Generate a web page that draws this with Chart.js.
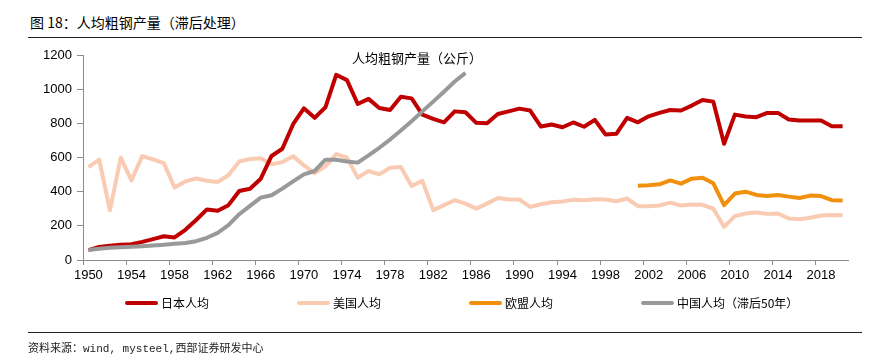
<!DOCTYPE html>
<html>
<head>
<meta charset="utf-8">
<script src="https://cdn.jsdelivr.net/npm/chart.js@4.4.1/dist/chart.umd.min.js"></script>
<style>
  html, body { margin: 0; padding: 0; background: #fff; }
  body { width: 889px; height: 364px; position: relative; overflow: hidden; }
  #wrap { position: absolute; left: 0; top: 0; width: 889px; height: 364px; }
  .head { position: absolute; left: 30px; top: 12px; font: 14px "Noto Sans CJK SC", sans-serif; color: #000; }
  .rule { position: absolute; left: 28px; width: 834px; height: 0; border-top: 1.5px solid #222; }
  .ctitle { position: absolute; left: 352px; top: 48px; font: 13px "Noto Sans CJK SC", sans-serif; color: #000; white-space: nowrap; }
  .foot { position: absolute; left: 28px; top: 339px; font: 11px "Liberation Mono", "Noto Sans CJK SC", monospace; color: #222; }
  #legend { position: absolute; left: 125px; top: 294px; display: flex; }
  .item { display: flex; align-items: center; margin-right: 88px; font: 12px "Noto Sans CJK SC", sans-serif; color: #000; white-space: nowrap; }
  .sw { width: 33px; height: 4px; border-radius: 2px; margin-right: 3px; }
</style>
</head>
<body>
<div class="head">图 18：人均粗钢产量（滞后处理）</div>
<div class="rule" style="top:37px"></div>
<div id="wrap"><canvas id="chart" width="889" height="364"></canvas></div>
<div class="ctitle">人均粗钢产量（公斤）</div>
<div id="legend"></div>
<div class="rule" style="top:332px"></div>
<div class="foot">资料来源：wind, mysteel,西部证券研发中心</div>
<script>
(() => {

/* ---------- DATA ---------- */

const years = [
  1950, 1951, 1952, 1953, 1954, 1955, 1956, 1957, 1958, 1959,
  1960, 1961, 1962, 1963, 1964, 1965, 1966, 1967, 1968, 1969,
  1970, 1971, 1972, 1973, 1974, 1975, 1976, 1977, 1978, 1979,
  1980, 1981, 1982, 1983, 1984, 1985, 1986, 1987, 1988, 1989,
  1990, 1991, 1992, 1993, 1994, 1995, 1996, 1997, 1998, 1999,
  2000, 2001, 2002, 2003, 2004, 2005, 2006, 2007, 2008, 2009,
  2010, 2011, 2012, 2013, 2014, 2015, 2016, 2017, 2018, 2019,
  2020
];

const japan = [
  58, 76, 84, 90, 92, 106, 122, 139, 132, 177,
  234, 296, 288, 321, 404, 417, 476, 609, 651, 795,
  888, 832, 894, 1084, 1053, 913, 943, 890, 878, 956,
  946, 851, 826, 806, 870, 865, 803, 801, 855, 870,
  886, 875, 781, 793, 777, 805, 780, 820, 735, 739,
  832, 806, 841, 861, 878, 875, 904, 937, 927, 680,
  851, 840, 836, 861, 861, 822, 816, 816, 816, 783,
  783
];

const usa = [
  544, 587, 291, 599, 466, 608, 589, 567, 424, 460,
  477, 464, 457, 496, 577, 591, 595, 560, 573, 608,
  554, 509, 548, 620, 599, 482, 521, 501, 540, 544,
  433, 463, 292, 321, 350, 330, 301, 330, 363, 354,
  354, 311, 326, 338, 342, 352, 350, 356, 354, 344,
  360, 315, 315, 319, 336, 319, 325, 323, 300, 194,
  257, 272, 278, 270, 272, 243, 239, 247, 260, 264,
  262
];

// EU series starts in 2001
const euFirstYear = 2001;
const eu = [
  435, 437, 443, 466, 447, 476, 482, 449, 321,
  389, 400, 381, 375, 381, 371, 363, 377, 374, 350,
  348
];

// China, shifted 50 years, ends in 1985
const china = [
  58, 66, 72, 75, 78, 81, 85, 89, 95, 99,
  110, 130, 159, 204, 268, 317, 365, 379, 418, 460,
  501, 521, 587, 587, 577, 570, 612, 657, 705, 758,
  812, 870, 927, 985, 1045, 1095
];

const yTicks = [0, 200, 400, 600, 800, 1000, 1200];

const series = [
  { label: "日本人均", data: japan, color: "#C00000", order: 1 },
  { label: "美国人均", data: usa, color: "#F9CBB3", order: 3 },
  { label: "欧盟人均", data: years.map(y => y < euFirstYear ? null : eu[y - euFirstYear]), color: "#F0900C", order: 2 },
  { label: "中国人均（滞后50年）", data: years.map((y, i) => i < china.length ? china[i] : null), color: "#999999", order: 0 }
];

/* ---------- LEGEND ---------- */

const legend = document.getElementById("legend");
series.forEach(s => {
  const item = document.createElement("div");
  item.className = "item";
  const sw = document.createElement("span");
  sw.className = "sw";
  sw.style.background = s.color;
  item.appendChild(sw);
  item.appendChild(document.createTextNode(s.label));
  legend.appendChild(item);
});

/* ---------- CHART ---------- */

const axisColor = "#8c8c8c";
const tickFont = { family: "'Liberation Sans', Arial, sans-serif", size: 13 };

new Chart(document.getElementById("chart"), {
  type: "line",
  data: {
    labels: years.map(String),
    datasets: series.map(s => ({
      label: s.label,
      data: s.data,
      borderColor: s.color,
      backgroundColor: s.color,
      borderWidth: 4,
      borderJoinStyle: "round",
      pointRadius: 0,
      tension: 0,
      spanGaps: false,
      order: s.order
    }))
  },
  options: {
    responsive: false,
    animation: false,
    layout: { padding: { top: 55, right: 41, bottom: 79, left: 0 } },
    plugins: {
      legend: { display: false },
      tooltip: { enabled: false }
    },
    scales: {
      x: {
        type: "category",
        offset: true,
        afterFit(scale) { scale.height = 25; },
        border: { display: true, color: axisColor, width: 1 },
        grid: {
          offset: true,
          drawOnChartArea: false,
          drawTicks: true,
          tickLength: 5,
          color: ctx => (ctx.index !== undefined && ctx.index % 4 === 0) ? axisColor : "rgba(0,0,0,0)"
        },
        ticks: {
          autoSkip: false,
          maxRotation: 0,
          minRotation: 0,
          padding: 3,
          color: "#000",
          font: tickFont,
          callback: (v, i) => i % 4 === 0 ? years[i] : ""
        }
      },
      y: {
        min: 0,
        max: 1200,
        afterFit(scale) { scale.width = 83; },
        afterBuildTicks(scale) { scale.ticks = yTicks.map(v => ({ value: v })); },
        border: { display: true, color: axisColor, width: 1 },
        grid: {
          drawOnChartArea: false,
          drawTicks: true,
          tickLength: 6,
          color: axisColor
        },
        ticks: {
          padding: 5,
          color: "#000",
          font: tickFont,
          callback: v => String(v)
        }
      }
    }
  }
});

})();
</script>
</body>
</html>
